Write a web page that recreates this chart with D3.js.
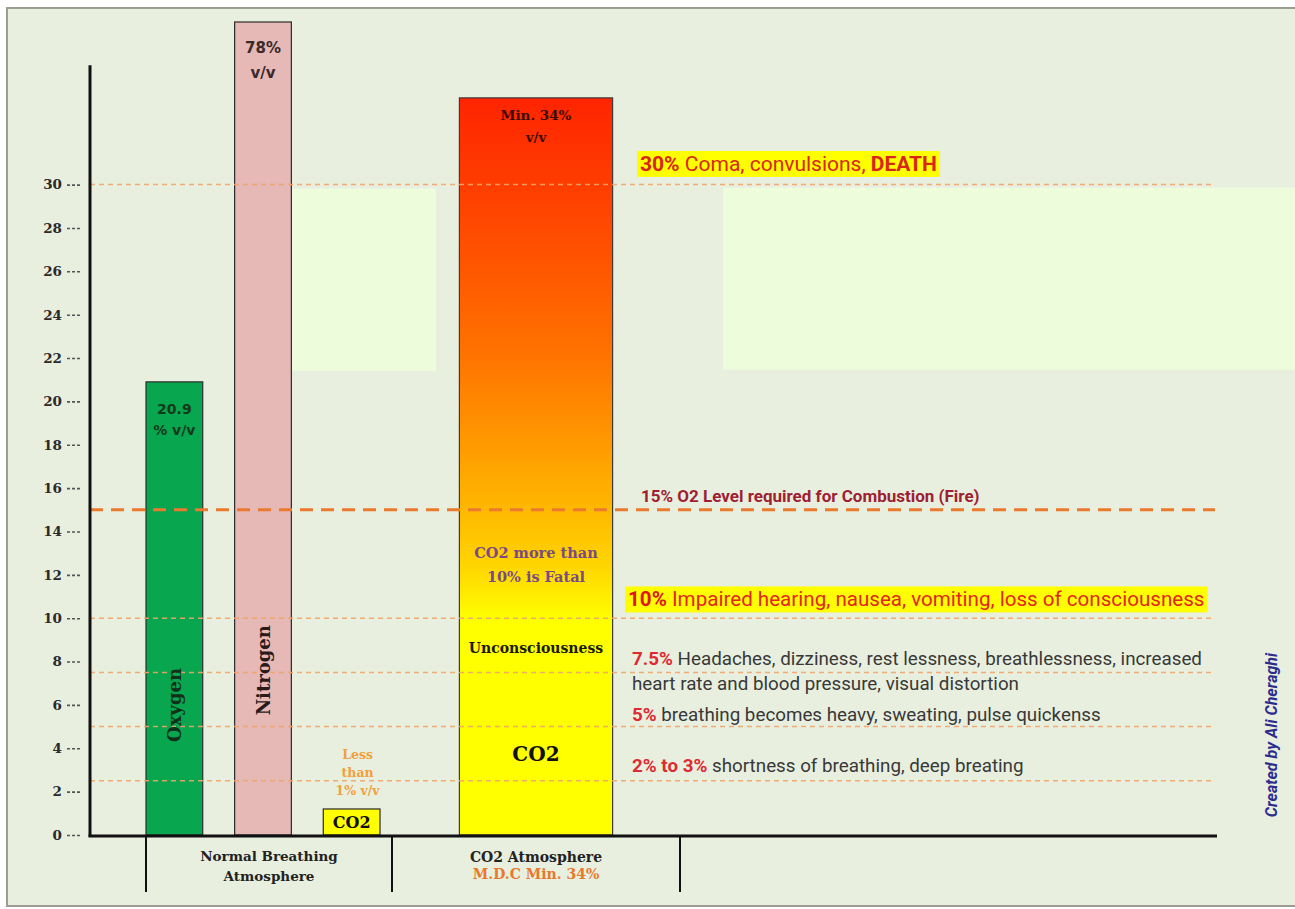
<!DOCTYPE html>
<html>
<head>
<meta charset="utf-8">
<script src="https://cdn.jsdelivr.net/npm/d3@7/dist/d3.min.js"></script>
<style>
  body { margin: 0; background: #ffffff; }
  svg { display: block; }
</style>
</head>
<body>
<svg id="chart" width="1295" height="909"></svg>
<script>
// ---- data -------------------------------------------------------------
// Gas concentrations, % v/v
const groupNames   = ["Normal Breathing Atmosphere", "CO2 Atmosphere"];
const normalGases  = ["Oxygen", "Nitrogen", "CO2"];
const normalValues = [20.9, 78, 1.2];
const co2AtmGas    = ["CO2"];
const co2AtmValues = [34];

// y axis ticks
const yTicks = [0, 2, 4, 6, 8, 10, 12, 14, 16, 18, 20, 22, 24, 26, 28, 30];

// CO2 exposure thresholds (% v/v) and their effects
const thresholdValues = [30, 15, 10, 7.5, 5, 2.5];
const thresholdLead   = ["30%", "15% O2 Level required for Combustion (Fire)", "10%", "7.5%", "5%", "2% to 3%"];
const thresholdText   = [
  ["Coma, convulsions, ", "DEATH"],
  [],
  ["Impaired hearing, nausea, vomiting, loss of consciousness"],
  ["Headaches, dizziness, rest lessness, breathlessness, increased", "heart rate and blood pressure, visual distortion"],
  ["breathing becomes heavy, sweating, pulse quickenss"],
  ["shortness of breathing, deep breating"]
];

// zone labels inside the CO2 atmosphere column (value = vertical position in %)
const zoneLabels = ["CO2 more than", "10% is Fatal", "Unconsciousness", "CO2"];
const zoneValues = [13.0, 11.9, 8.6, 3.75];

// ---- layout -----------------------------------------------------------
const W = 1295, H = 909;
const axisX = 90, axisRight = 1217;
const yTop = 37.5;            // values above this run off the top of the plot
const svg = d3.select("#chart");

const y = d3.scaleLinear().domain([0, yTop]).range([835, 22]).clamp(true);

const groupRange = d3.scaleOrdinal().domain(groupNames).range([[146, 392], [392, 680]]);
const xNormal = d3.scaleBand().domain(normalGases).range([146, 380]).paddingInner(0.36).paddingOuter(0);
const xCo2 = d3.scaleBand().domain(co2AtmGas).range(groupRange(groupNames[1])).paddingOuter(0.44).align(0.5);

const serif = "'DejaVu Serif', 'Liberation Serif', serif";
const sans  = "'DejaVu Sans', Verdana, sans-serif";
const narrow = "'Liberation Sans Narrow', 'Arial Narrow', 'Roboto', sans-serif";

// ---- background -------------------------------------------------------
svg.append("rect").attr("x", 7).attr("y", 8).attr("width", W).attr("height", 898)
  .attr("fill", "#e9efdf").attr("stroke", "#9b9d93").attr("stroke-width", 2);

const defs = svg.append("defs");

// pale highlight panels
svg.append("rect").attr("x", 291).attr("y", y(30) + 4).attr("width", 145).attr("height", 182).attr("fill", "#edfddb");
svg.append("rect").attr("x", 723).attr("y", y(30) + 3).attr("width", W - 723).attr("height", 182).attr("fill", "#edfddb");

// ---- bars: normal breathing atmosphere --------------------------------
const normalFill = ["#07a64f", "#e6b8b6", "#ffff00"];
const normalData = normalGases.map((g, i) => ({ gas: g, value: normalValues[i], fill: normalFill[i] }));

svg.selectAll("rect.normal").data(normalData).join("rect")
  .attr("class", "normal")
  .attr("x", d => xNormal(d.gas))
  .attr("width", xNormal.bandwidth())
  .attr("y", d => y(d.value))
  .attr("height", d => y(0) - y(d.value))
  .attr("fill", d => d.fill)
  .attr("stroke", "#2b2b2b").attr("stroke-width", 1.2);

// ---- bar: CO2 atmosphere (gradient) -----------------------------------
const co2Stops = [[34, "#ff2400"], [27, "#ff5000"], [22, "#ff7400"], [18, "#ff9a00"],
                  [14.7, "#ffbb00"], [12.5, "#ffd400"], [10.8, "#fff000"], [10, "#ffff00"], [0, "#ffff00"]];
const grad = defs.append("linearGradient").attr("id", "co2grad")
  .attr("gradientUnits", "userSpaceOnUse")
  .attr("x1", 0).attr("x2", 0).attr("y1", y(34)).attr("y2", y(0));
co2Stops.forEach(([v, c]) => {
  grad.append("stop").attr("offset", (y(v) - y(34)) / (y(0) - y(34))).attr("stop-color", c);
});

const co2Data = co2AtmGas.map((g, i) => ({ gas: g, value: co2AtmValues[i] }));
svg.selectAll("rect.co2atm").data(co2Data).join("rect")
  .attr("class", "co2atm")
  .attr("x", d => xCo2(d.gas))
  .attr("width", xCo2.bandwidth())
  .attr("y", d => y(d.value))
  .attr("height", d => y(0) - y(d.value))
  .attr("fill", "url(#co2grad)")
  .attr("stroke", "#3b3b3b").attr("stroke-width", 1.2);

// ---- threshold lines (drawn over the bars) ----------------------------
thresholdValues.forEach(v => {
  const major = v === 15;
  svg.append("line")
    .attr("x1", axisX).attr("x2", axisRight - 2)
    .attr("y1", y(v)).attr("y2", y(v))
    .attr("stroke", major ? "#ec7a2e" : "#f2a468")
    .attr("stroke-opacity", major ? 1 : 0.9)
    .attr("stroke-width", major ? 3 : 1.5)
    .attr("stroke-dasharray", major ? "13,8" : "5,4");
});

// ---- axes -------------------------------------------------------------
const yAxis = d3.axisLeft(y).tickValues(yTicks).tickSize(14).tickPadding(4).tickFormat(d3.format("d"));
const gy = svg.append("g").attr("transform", `translate(${axisX - 10},0)`).call(yAxis);
gy.select(".domain").remove();
gy.selectAll(".tick line").attr("stroke", "#555").attr("stroke-width", 1.6).attr("stroke-dasharray", "3,2");
gy.selectAll(".tick text").attr("font-family", serif).attr("font-weight", "bold")
  .attr("font-size", 13.5).attr("fill", "#2a2a2a");

svg.append("line").attr("x1", axisX).attr("x2", axisX).attr("y1", y(35.5)).attr("y2", y(0) + 1.5)
  .attr("stroke", "#111").attr("stroke-width", 3);
svg.append("line").attr("x1", axisX - 1.5).attr("x2", axisRight).attr("y1", y(0) + 1).attr("y2", y(0) + 1)
  .attr("stroke", "#111").attr("stroke-width", 3);

// group separators
const g0 = groupRange(groupNames[0]), g1 = groupRange(groupNames[1]);
[g0[0], g0[1], g1[1]].forEach(x => {
  svg.append("line").attr("x1", x).attr("x2", x).attr("y1", y(0) + 1).attr("y2", 892)
    .attr("stroke", "#111").attr("stroke-width", 2);
});

// multi-line centred text helper
function lines(x, y0, arr, opts) {
  const t = svg.append("text").attr("x", x).attr("y", y0).attr("text-anchor", opts.anchor || "middle")
    .attr("font-family", opts.font).attr("font-weight", opts.weight || "bold")
    .attr("font-size", opts.size).attr("fill", opts.fill || "#222");
  arr.forEach((s, i) => {
    t.append("tspan").attr("x", x).attr("dy", i === 0 ? 0 : opts.lh).attr("fill", (opts.fills && opts.fills[i]) || null).text(s);
  });
  return t;
}

// group labels
lines((g0[0] + g0[1]) / 2, 861, ["Normal Breathing", "Atmosphere"], { font: serif, size: 13.5, lh: 20 });
lines((g1[0] + g1[1]) / 2, 862, ["CO2 Atmosphere", "M.D.C Min. 34%"], { font: serif, size: 14, lh: 17, fills: ["#222", "#e8782a"] });

// ---- labels on bars ---------------------------------------------------
const cx = g => xNormal(g) + xNormal.bandwidth() / 2;
lines(cx("Oxygen"), y(20.9) + 32, ["20.9", "% v/v"], { font: sans, size: 14, lh: 21, fill: "#123a1c" });
lines(cx("Nitrogen"), y(78) + 31, ["78%", "v/v"], { font: sans, size: 15, lh: 25, fill: "#3a2a2a" });
lines(cx("CO2") + 6, y(1.2) - 50, ["Less", "than", "1% v/v"], { font: serif, size: 12.5, lh: 18, fill: "#f0a03c" });
lines(cx("CO2"), (y(1.2) + y(0)) / 2 + 6, ["CO2"], { font: serif, size: 16, fill: "#111" });

svg.append("text").attr("transform", `translate(${cx("Oxygen") + 7},${y(6)}) rotate(-90)`)
  .attr("text-anchor", "middle").attr("font-family", serif).attr("font-weight", "bold")
  .attr("font-size", 18).attr("fill", "#10301a").text("Oxygen");
svg.append("text").attr("transform", `translate(${cx("Nitrogen") + 7},${y(7.6)}) rotate(-90)`)
  .attr("text-anchor", "middle").attr("font-family", serif).attr("font-weight", "bold")
  .attr("font-size", 18).attr("fill", "#2a1a1a").text("Nitrogen");

const c2 = xCo2("CO2") + xCo2.bandwidth() / 2;
lines(c2, y(34) + 22, ["Min. 34%", "v/v"], { font: serif, size: 13.5, lh: 22, fill: "#3a0c00" });
const zoneFill = ["#7a4a86", "#7a4a86", "#1a1a00", "#111"];
const zoneSize = [14.5, 14.5, 14, 20];
zoneLabels.forEach((s, i) => {
  svg.append("text").attr("x", c2).attr("y", y(zoneValues[i])).attr("dy", "0.35em")
    .attr("text-anchor", "middle").attr("font-family", serif).attr("font-weight", "bold")
    .attr("font-size", zoneSize[i]).attr("fill", zoneFill[i]).text(s);
});

// ---- threshold annotations -------------------------------------------
function annot(x, yy, lead, rest, o) {
  const t = svg.append("text").attr("x", x).attr("y", yy).attr("dy", "0.35em")
    .attr("font-family", narrow).attr("font-size", o.size);
  if (lead) t.append("tspan").attr("font-weight", "bold").attr("fill", o.leadFill).text(lead + (rest.length ? " " : ""));
  rest.forEach((s, i) => {
    t.append("tspan").attr("font-weight", o.bold && o.bold[i] ? "bold" : "normal").attr("fill", o.restFill).text(s);
  });
  return t;
}
function highlight(t) {
  const b = t.node().getBBox();
  svg.insert("rect", () => t.node()).attr("x", b.x - 3).attr("y", b.y - 1)
    .attr("width", b.width + 6).attr("height", b.height + 2).attr("fill", "#ffff00");
}

const ax = 632;
const effect = { size: 18.8, leadFill: "#de2a32", restFill: "#383838" };
highlight(annot(ax + 8, y(30) - 21, thresholdLead[0], thresholdText[0], { size: 21, leadFill: "#d8261a", restFill: "#d8261a", bold: [false, true] }));
annot(ax + 9, y(15) - 14, thresholdLead[1], [], { size: 17, leadFill: "#9e1f32" });
highlight(annot(ax - 4, y(10) - 19, thresholdLead[2], thresholdText[2], { size: 20.6, leadFill: "#e0141a", restFill: "#e3261d" }));
annot(ax, y(7.5) - 14, thresholdLead[3], [thresholdText[3][0]], effect);
annot(ax, y(7.5) + 11, "", [thresholdText[3][1]], effect);
annot(ax, y(5) - 12, thresholdLead[4], thresholdText[4], effect);
annot(ax, y(2.5) - 15, thresholdLead[5], thresholdText[5], effect);

// ---- credit -----------------------------------------------------------
svg.append("text").attr("transform", `translate(1277,735) rotate(-90)`)
  .attr("text-anchor", "middle").attr("font-family", narrow).attr("font-style", "italic")
  .attr("font-weight", "bold").attr("font-size", 16).attr("fill", "#2b2d8e")
  .text("Created by Ali Cheraghi");
</script>
</body>
</html>
